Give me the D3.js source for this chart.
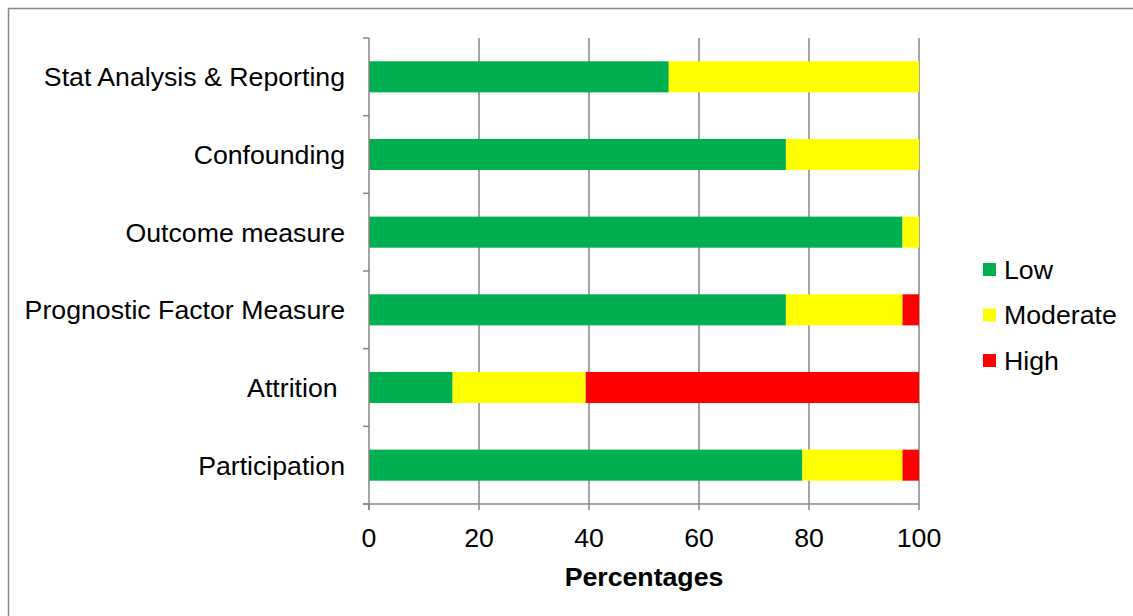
<!DOCTYPE html>
<html>
<head>
<meta charset="utf-8">
<script src="https://cdn.jsdelivr.net/npm/d3@7"></script>
<style>
  html, body { margin: 0; padding: 0; background: #fff; }
  svg { display: block; font-family: "Liberation Sans", Arial, sans-serif; }
  svg text { white-space: pre; }
</style>
</head>
<body>
<svg id="chart" width="1133" height="616"></svg>
<script>
// Risk-of-bias domains (listed bottom to top as drawn)
const categories = ["Participation", "Attrition ", "Prognostic Factor Measure", "Outcome measure", "Confounding", "Stat Analysis & Reporting"];
const series = ["Low", "Moderate", "High"];
const low      = [78.8, 15.2, 75.8, 97.0, 75.8, 54.5];
const moderate = [18.2, 24.2, 21.2,  3.0, 24.2, 45.5];
const high     = [ 3.0, 60.6,  3.0,  0.0,  0.0,  0.0];
const xTicks = [0, 20, 40, 60, 80, 100];
const colors = ["#00B050", "#FFFF00", "#FF0000"];

const fontSize = 26.7;
const rows = categories.map((c, i) => ({ cat: c, Low: low[i], Moderate: moderate[i], High: high[i] }));
const stacked = d3.stack().keys(series)(rows);

const svg = d3.select("#chart");

// outer chart frame
svg.append("rect")
  .attr("x", 8.5).attr("y", 8.5).attr("width", 1140).attr("height", 620)
  .attr("fill", "none").attr("stroke", "#868686").attr("stroke-width", 1.5);

const plotLeft = 369, plotRight = 919, plotTop = 38, plotBottom = 504;
const x = d3.scaleLinear().domain([0, 100]).range([plotLeft, plotRight]);
const order = categories.slice().reverse();
const y = d3.scaleBand().domain(order).range([plotTop, plotBottom]).paddingInner(0.6).paddingOuter(0.3);
const yBand = d3.scaleBand().domain(order).range([plotTop, plotBottom]);

// vertical gridlines
svg.append("g").selectAll("line").data(xTicks.slice(1)).join("line")
  .attr("x1", d => x(d)).attr("x2", d => x(d))
  .attr("y1", plotTop).attr("y2", plotBottom)
  .attr("stroke", "#868686").attr("stroke-width", 1.5);

// stacked bars
svg.append("g").selectAll("g").data(stacked).join("g")
  .attr("fill", (d, i) => colors[i])
  .selectAll("rect").data(d => d).join("rect")
  .attr("x", d => x(d[0]))
  .attr("width", d => x(d[1]) - x(d[0]))
  .attr("y", d => y(d.data.cat))
  .attr("height", y.bandwidth());

// y axis line with ticks at category boundaries
const yAxis = svg.append("g");
yAxis.append("line").attr("x1", plotLeft).attr("x2", plotLeft).attr("y1", plotTop).attr("y2", plotBottom + 6)
  .attr("stroke", "#868686").attr("stroke-width", 1.5);
const bounds = order.map(c => yBand(c)).concat([plotBottom]);
yAxis.selectAll("line.tick").data(bounds).join("line").attr("class", "tick")
  .attr("x1", plotLeft - 6).attr("x2", plotLeft).attr("y1", d => d).attr("y2", d => d)
  .attr("stroke", "#868686").attr("stroke-width", 1.5);
yAxis.selectAll("text").data(categories).join("text")
  .attr("x", 345).attr("y", d => yBand(d) + yBand.bandwidth() / 2)
  .attr("dy", "0.35em").attr("text-anchor", "end")
  .attr("font-size", fontSize).attr("fill", "#000")
  .text(d => d);

// x axis
const xAxis = svg.append("g");
xAxis.append("line").attr("x1", plotLeft - 6).attr("x2", plotRight).attr("y1", plotBottom).attr("y2", plotBottom)
  .attr("stroke", "#868686").attr("stroke-width", 1.5);
xAxis.selectAll("line.tick").data(xTicks).join("line").attr("class", "tick")
  .attr("x1", d => x(d)).attr("x2", d => x(d)).attr("y1", plotBottom).attr("y2", plotBottom + 6)
  .attr("stroke", "#868686").attr("stroke-width", 1.5);
xAxis.selectAll("text").data(xTicks).join("text")
  .attr("x", d => x(d)).attr("y", 546.5).attr("text-anchor", "middle")
  .attr("font-size", fontSize).attr("fill", "#000")
  .text(d => d);

svg.append("text").attr("x", (plotLeft + plotRight) / 2).attr("y", 586)
  .attr("text-anchor", "middle").attr("font-size", fontSize).attr("font-weight", "bold")
  .text("Percentages");

// legend
const legend = svg.append("g").selectAll("g").data(series).join("g")
  .attr("transform", (d, i) => `translate(983, ${263 + i * 45.5})`);
legend.append("rect").attr("width", 13).attr("height", 13).attr("fill", (d, i) => colors[i]);
legend.append("text").attr("x", 21).attr("y", 6.5).attr("dy", "0.35em")
  .attr("font-size", fontSize).text(d => d);
</script>
</body>
</html>
